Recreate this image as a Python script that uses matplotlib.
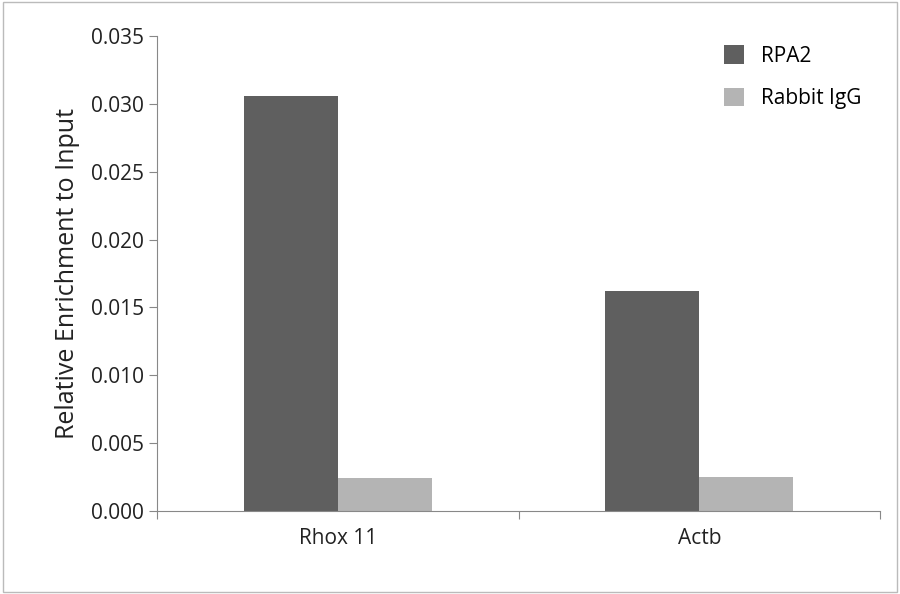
import matplotlib
matplotlib.use("Agg")
import matplotlib.pyplot as plt
import numpy as np

categories = ["Rhox 11", "Actb"]
series = ["RPA2", "Rabbit IgG"]
rpa2 = [0.0306, 0.0162]
igg = [0.0024, 0.0025]
yticks = [0.000, 0.005, 0.010, 0.015, 0.020, 0.025, 0.030, 0.035]

plt.rcParams['font.family'] = ['Open Sans', 'DejaVu Sans']
fig = plt.figure(figsize=(9, 5.94), dpi=100)
fig.patches.append(plt.Rectangle((0.003, 0.003), 0.994, 0.994, transform=fig.transFigure,
                                 fill=False, edgecolor='#bbbbbb', lw=1))
ax = fig.add_axes([0.1744, 0.1397, 0.8036, 0.7997])
x = np.arange(len(categories))
w = 0.26
ax.bar(x - w/2, rpa2, w, color='#5f5f5f', label=series[0])
ax.bar(x + w/2, igg, w, color='#b4b4b4', label=series[1])
ax.set_xlim(-0.5, 1.5)
ax.set_ylim(0, 0.035)
ax.set_yticks(yticks)
ax.set_yticklabels([f"{v:.3f}" for v in yticks], fontsize=15, color='#222222')
ax.set_xticks([-0.5, 0.5, 1.5])
ax.set_xticklabels([])
ax.set_xticks(x, minor=True)
ax.set_xticklabels(categories, minor=True, fontsize=15, color='#222222')
ax.tick_params(axis='x', which='minor', length=0, pad=12)
ax.tick_params(axis='x', which='major', length=6, color='#888888')
ax.tick_params(axis='y', length=6, color='#888888')
for s in ['top', 'right']:
    ax.spines[s].set_visible(False)
for s in ['left', 'bottom']:
    ax.spines[s].set_color('#888888')
ax.set_ylabel("Relative Enrichment to Input", fontsize=18, color='#222222', labelpad=8)
leg = ax.legend(loc='upper right', frameon=False, fontsize=15, handlelength=1.0,
                handleheight=1.0, labelspacing=1.0, bbox_to_anchor=(1.0, 1.02))
fig.savefig("out.png", dpi=100)
